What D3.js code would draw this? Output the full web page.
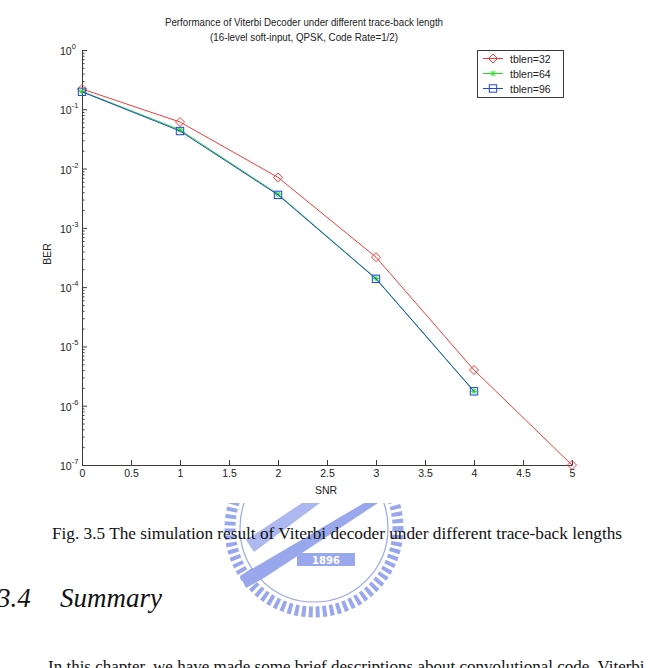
<!DOCTYPE html>
<html>
<head>
<meta charset="utf-8">
<script src="https://cdn.jsdelivr.net/npm/d3@7"></script>
<style>
  html, body { margin: 0; padding: 0; background: #fff; }
  svg { display: block; }
</style>
</head>
<body>
<div id="chart"></div>
<script>
// data
const snr = [0, 1, 2, 3, 4, 5]
const tblen32 = [0.22, 0.061, 0.0071, 3.2e-4, 4.0e-6, 1.0e-7]
const tblen64 = [0.20, 0.045, 0.0037, 1.40e-4, 1.75e-6]
const tblen96 = [0.197, 0.043, 0.0036, 1.38e-4, 1.75e-6]
const xTicks = [0, 0.5, 1, 1.5, 2, 2.5, 3, 3.5, 4, 4.5, 5]
const yExponents = [0, -1, -2, -3, -4, -5, -6, -7]
const seriesNames = ["tblen=32", "tblen=64", "tblen=96"]

const width = 670
const height = 668
const plotLeft = 82, plotRight = 572, plotTop = 50, plotBottom = 465
const axisColor = "#3a3a3a"

const svg = d3.select("#chart").append("svg")
    .attr("width", width)
    .attr("height", height)
    .attr("viewBox", [0, 0, width, height])

// watermark logo (drawn first, the plot image covers its top)
svg.append("clipPath").attr("id", "logoClip")
  .append("rect").attr("x", 0).attr("y", 503).attr("width", width).attr("height", 165)

const logo = svg.append("g")
    .attr("clip-path", "url(#logoClip)")
    .attr("opacity", 0.7)
const logoBlue = "#6f82e6"
logo.append("circle")
    .attr("cx", 314).attr("cy", 528).attr("r", 84)
    .attr("fill", "none").attr("stroke", logoBlue)
    .attr("stroke-width", 11).attr("stroke-dasharray", "4 3")
logo.append("circle")
    .attr("cx", 314).attr("cy", 528).attr("r", 74)
    .attr("fill", "none").attr("stroke", logoBlue).attr("stroke-width", 1.2)
logo.append("path")
    .attr("d", "M364,503 L378,503 L264,578 L250,570 Z")
    .attr("fill", logoBlue)
logo.append("path")
    .attr("d", "M302,503 L320,503 L254,552 L246,540 Z")
    .attr("fill", logoBlue).attr("opacity", 0.8)
logo.append("path")
    .attr("d", "M252,568 L264,578 L246,588 L240,576 Z")
    .attr("fill", logoBlue)
logo.append("rect")
    .attr("x", 297).attr("y", 553).attr("width", 58).attr("height", 13)
    .attr("fill", logoBlue)
logo.append("text")
    .attr("x", 326).attr("y", 563.5)
    .attr("text-anchor", "middle")
    .attr("font-family", "DejaVu Sans, sans-serif")
    .attr("font-size", 10).attr("font-weight", "bold")
    .attr("fill", "#fff")
    .text("1896")

const x = d3.scaleLinear().domain([0, 5]).range([plotLeft, plotRight])
const y = d3.scaleLog().domain([1e-7, 1]).range([plotBottom, plotTop])

// title
const title = svg.append("g")
    .attr("font-family", "Liberation Sans, Arial, sans-serif")
    .attr("font-size", 11)
    .attr("fill", "#222")
    .attr("text-anchor", "middle")
title.append("text").attr("x", 304).attr("y", 26)
    .attr("textLength", 278).attr("lengthAdjust", "spacingAndGlyphs")
    .text("Performance of Viterbi Decoder under different trace-back length")
title.append("text").attr("x", 304).attr("y", 41)
    .attr("textLength", 188).attr("lengthAdjust", "spacingAndGlyphs")
    .text("(16-level soft-input, QPSK, Code Rate=1/2)")

// x axis
const xAxis = svg.append("g")
    .attr("transform", `translate(0,${plotBottom})`)
    .call(d3.axisBottom(x).tickValues(xTicks).tickFormat(d3.format(""))
        .tickSizeInner(-5).tickSizeOuter(0).tickPadding(5))
xAxis.select(".domain").attr("stroke", axisColor)
xAxis.selectAll(".tick line").attr("stroke", axisColor)
xAxis.selectAll(".tick text")
    .attr("font-family", "Liberation Sans, Arial, sans-serif")
    .attr("font-size", 10.5).attr("fill", "#222")

// y axis, major + minor ticks
const minorVals = []
yExponents.slice(1).forEach(e => {
  for (let m = 2; m <= 9; m++) minorVals.push(m * Math.pow(10, e))
})
const yMinor = svg.append("g")
    .attr("transform", `translate(${plotLeft},0)`)
    .call(d3.axisLeft(y).tickValues(minorVals).tickFormat("")
        .tickSizeInner(-2.5).tickSizeOuter(0))
yMinor.select(".domain").remove()
yMinor.selectAll(".tick line").attr("stroke", axisColor)

const yAxis = svg.append("g")
    .attr("transform", `translate(${plotLeft},0)`)
    .call(d3.axisLeft(y).tickValues(yExponents.map(e => Math.pow(10, e))).tickFormat("")
        .tickSizeInner(-5).tickSizeOuter(0))
yAxis.select(".domain").attr("stroke", axisColor)
yAxis.selectAll(".tick line").attr("stroke", axisColor)

const yLabels = svg.append("g")
    .attr("font-family", "Liberation Sans, Arial, sans-serif")
    .attr("fill", "#222")
yExponents.forEach(e => {
  const t = yLabels.append("text")
      .attr("x", 60).attr("y", y(Math.pow(10, e)) + 5)
      .attr("font-size", 10.5)
  t.append("tspan").text("10")
  t.append("tspan").attr("dy", -6).attr("font-size", 7.5).text(String(e))
})

// axis labels
svg.append("text")
    .attr("x", 326).attr("y", 494)
    .attr("text-anchor", "middle")
    .attr("font-family", "Liberation Sans, Arial, sans-serif")
    .attr("font-size", 10.5).attr("fill", "#222")
    .text("SNR")
svg.append("text")
    .attr("transform", "translate(51,254) rotate(-90)")
    .attr("text-anchor", "middle")
    .attr("font-family", "Liberation Sans, Arial, sans-serif")
    .attr("font-size", 10.5).attr("fill", "#222")
    .text("BER")

// markers
const diamond = (g, cx, cy, c) => g.append("path")
    .attr("d", `M${cx},${cy - 4.5}L${cx + 4.5},${cy}L${cx},${cy + 4.5}L${cx - 4.5},${cy}Z`)
    .attr("fill", "none").attr("stroke", c).attr("stroke-width", 1)
const star = (g, cx, cy, c) => g.append("path")
    .attr("d", `M${cx - 3},${cy}H${cx + 3}M${cx},${cy - 3}V${cy + 3}M${cx - 2.2},${cy - 2.2}L${cx + 2.2},${cy + 2.2}M${cx - 2.2},${cy + 2.2}L${cx + 2.2},${cy - 2.2}`)
    .attr("fill", "none").attr("stroke", c).attr("stroke-width", 1)
const square = (g, cx, cy, c) => g.append("rect")
    .attr("x", cx - 3.7).attr("y", cy - 3.7).attr("width", 7.4).attr("height", 7.4)
    .attr("fill", "none").attr("stroke", c).attr("stroke-width", 1)

const series = [
  { name: seriesNames[0], values: tblen32, color: "#f53a3a", marker: diamond },
  { name: seriesNames[1], values: tblen64, color: "#22dd22", marker: star },
  { name: seriesNames[2], values: tblen96, color: "#2046d8", marker: square }
]

const line = d3.line()
    .x((d, i) => x(snr[i]))
    .y(d => y(d))

series.forEach(s => {
  const g = svg.append("g")
  g.append("path")
      .datum(s.values)
      .attr("d", line)
      .attr("fill", "none")
      .attr("stroke", s.color)
      .attr("stroke-width", 1)
  s.values.forEach((v, i) => s.marker(g, x(snr[i]), y(v), s.color))
})

// legend
const legend = svg.append("g")
legend.append("rect")
    .attr("x", 477.5).attr("y", 50.5).attr("width", 86).attr("height", 47)
    .attr("fill", "#fff").attr("stroke", axisColor).attr("stroke-width", 1)
series.forEach((s, i) => {
  const ly = 58.5 + i * 15
  legend.append("line")
      .attr("x1", 483).attr("x2", 503).attr("y1", ly).attr("y2", ly)
      .attr("stroke", s.color).attr("stroke-width", 1)
  s.marker(legend, 493, ly, s.color)
  legend.append("text")
      .attr("x", 510).attr("y", ly + 4)
      .attr("font-family", "Liberation Sans, Arial, sans-serif")
      .attr("font-size", 10.5).attr("fill", "#222")
      .text(s.name)
})

// page text around the figure
svg.append("text")
    .attr("x", 52).attr("y", 539)
    .attr("font-family", "Liberation Serif, Times New Roman, serif")
    .attr("font-size", 17).attr("fill", "#111")
    .attr("textLength", 570).attr("lengthAdjust", "spacingAndGlyphs")
    .text("Fig. 3.5 The simulation result of Viterbi decoder under different trace-back lengths")

const heading = svg.append("g")
    .attr("font-family", "Liberation Serif, Times New Roman, serif")
    .attr("font-style", "italic")
    .attr("font-size", 27).attr("fill", "#111")
heading.append("text").attr("x", -3).attr("y", 607).text("3.4")
heading.append("text").attr("x", 60).attr("y", 607).text("Summary")

svg.append("text")
    .attr("x", 48).attr("y", 672)
    .attr("font-family", "Liberation Serif, Times New Roman, serif")
    .attr("font-size", 17).attr("fill", "#111")
    .text("In this chapter, we have made some brief descriptions about convolutional code. Viterbi")
</script>
</body>
</html>
